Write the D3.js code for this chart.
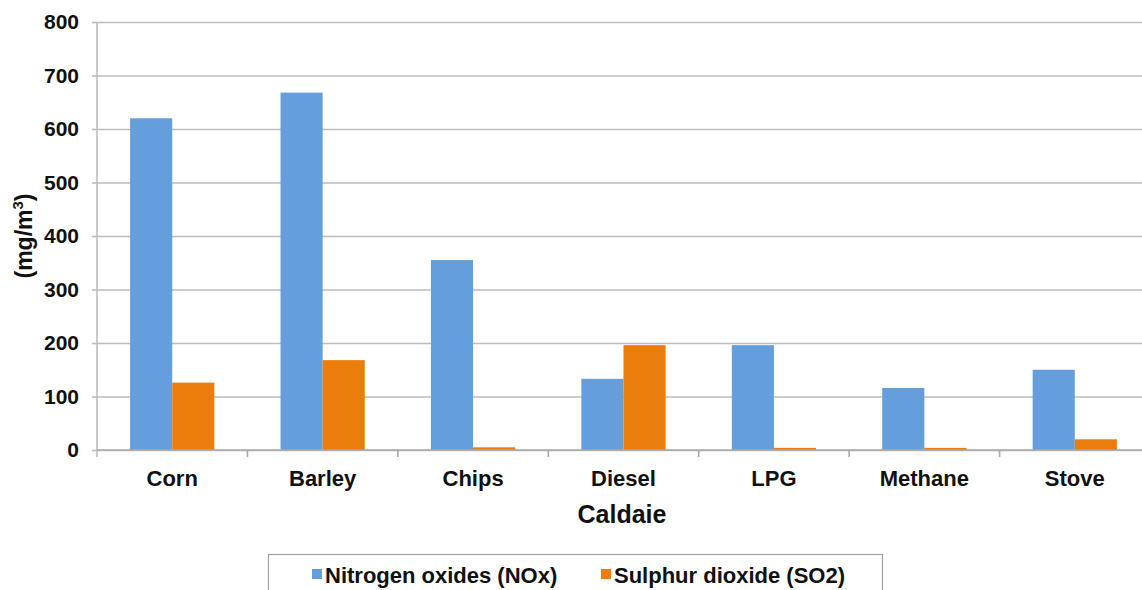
<!DOCTYPE html>
<html>
<head>
<meta charset="utf-8">
<script src="https://cdn.jsdelivr.net/npm/d3@7"></script>
<style>
  html, body { margin: 0; padding: 0; background: #fff; }
  svg { display: block; font-family: "Liberation Sans", Arial, sans-serif; }
</style>
</head>
<body>
<svg id="chart" width="1142" height="590"></svg>
<script>
// Boiler types and measured emissions (mg/m³)
const categories = ["Corn", "Barley", "Chips", "Diesel", "LPG", "Methane", "Stove"];
const seriesNames = ["Nitrogen oxides (NOx)", "Sulphur dioxide (SO2)"];
const noxValues = [620, 668, 355, 133, 196, 116, 150];
const so2Values = [126, 168, 5, 196, 4, 4, 20];
const yTicks = [0, 100, 200, 300, 400, 500, 600, 700, 800];
const colors = ["#659fdb", "#eb7d0c"];

const svg = d3.select("#chart");
// the plot area runs a little past the right edge of the canvas
const plotLeft = 97, plotRight = 1150, plotTop = 22, plotBottom = 450;

const x = d3.scaleBand().domain(categories).range([plotLeft, plotRight])
  .paddingInner(0.44).paddingOuter(0.22);
const xEdges = d3.scaleBand().domain(categories).range([plotLeft, plotRight]).padding(0);
const xSub = d3.scaleBand().domain(seriesNames).range([0, x.bandwidth()]);
const y = d3.scaleLinear().domain([0, 800]).range([plotBottom, plotTop]);

// Horizontal gridlines + y tick labels
const yAxis = svg.append("g").attr("transform", `translate(${plotLeft},0)`)
  .call(d3.axisLeft(y).tickValues(yTicks).tickSize(-(plotRight - plotLeft)).tickPadding(18).tickSizeOuter(0));
yAxis.select(".domain").remove();
yAxis.selectAll(".tick line").attr("stroke", "#bdbdbd").attr("stroke-width", 1.6);
yAxis.selectAll(".tick text")
  .attr("fill", "#111").attr("font-size", 21).attr("font-weight", "bold");
// short outside tick marks on the left
yAxis.selectAll(".tick").append("line")
  .attr("x1", -5).attr("x2", 0).attr("stroke", "#bdbdbd").attr("stroke-width", 1.6);

// Bars
const rows = categories.map((c, i) => ({ cat: c, vals: [noxValues[i], so2Values[i]] }));
const groups = svg.append("g").selectAll("g").data(rows).join("g")
  .attr("transform", d => `translate(${x(d.cat)},0)`);
groups.selectAll("rect").data(d => d.vals.map((v, k) => ({ v, k })))
  .join("rect")
  .attr("x", d => xSub(seriesNames[d.k]))
  .attr("width", xSub.bandwidth())
  .attr("y", d => y(d.v))
  .attr("height", d => y(0) - y(d.v))
  .attr("fill", d => colors[d.k]);

// Y axis line
svg.append("line").attr("x1", plotLeft).attr("x2", plotLeft).attr("y1", plotTop).attr("y2", plotBottom + 7)
  .attr("stroke", "#bdbdbd").attr("stroke-width", 1.6);

// X axis line and category boundary ticks
svg.append("line").attr("x1", plotLeft).attr("x2", plotRight).attr("y1", plotBottom).attr("y2", plotBottom)
  .attr("stroke", "#a8a8a8").attr("stroke-width", 1.6);
svg.append("g").selectAll("line").data(categories.slice(1))
  .join("line")
  .attr("x1", d => xEdges(d)).attr("x2", d => xEdges(d))
  .attr("y1", plotBottom).attr("y2", plotBottom + 7)
  .attr("stroke", "#a8a8a8").attr("stroke-width", 1.6);

// Category labels
svg.append("g").selectAll("text").data(categories).join("text")
  .attr("x", d => x(d) + x.bandwidth() / 2)
  .attr("y", 486)
  .attr("text-anchor", "middle")
  .attr("font-size", 22).attr("font-weight", "bold").attr("fill", "#111")
  .text(d => d);

// Axis titles
svg.append("text").attr("x", 622).attr("y", 523).attr("text-anchor", "middle")
  .attr("font-size", 25).attr("font-weight", "bold").attr("fill", "#111").text("Caldaie");

const yt = svg.append("text")
  .attr("transform", "translate(32,236) rotate(-90)")
  .attr("text-anchor", "middle")
  .attr("font-size", 23).attr("font-weight", "bold").attr("fill", "#111");
yt.append("tspan").text("(mg/m");
yt.append("tspan").attr("font-size", 15).attr("dy", -9).text("3");
yt.append("tspan").attr("dy", 9).text(")");

// Legend
const legend = svg.append("g");
legend.append("rect").attr("x", 268.5).attr("y", 554.5).attr("width", 614).attr("height", 60)
  .attr("fill", "#fff").attr("stroke", "#a0a0a0").attr("stroke-width", 1.2);
const legendX = [312, 601];
seriesNames.forEach((name, i) => {
  legend.append("rect").attr("x", legendX[i]).attr("y", 569).attr("width", 10).attr("height", 10)
    .attr("fill", colors[i]);
  legend.append("text").attr("x", legendX[i] + 13).attr("y", 583)
    .attr("font-size", 22).attr("font-weight", "bold").attr("fill", "#111").text(name);
});
</script>
</body>
</html>
